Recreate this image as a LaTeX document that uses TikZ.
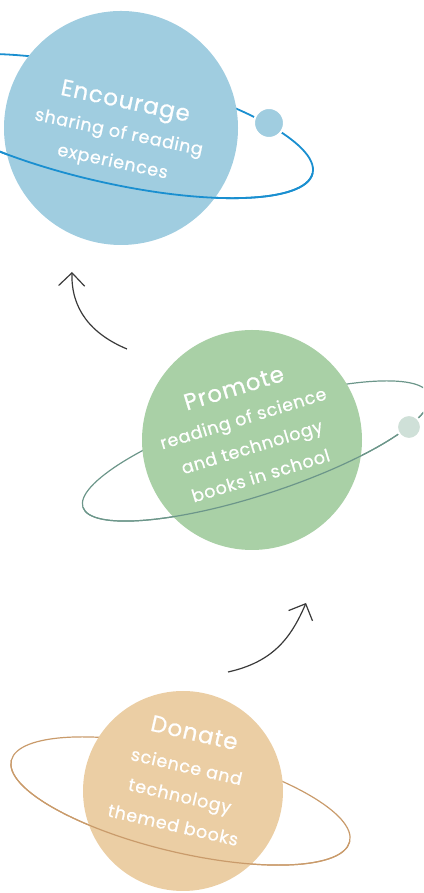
\documentclass[tikz,border=0pt]{standalone}
\usepackage{fontspec}
\setmainfont{Poppins}
\newfontfamily\planetfont{Poppins}[LetterSpace=4, FakeBold=0.7]
\usetikzlibrary{arrows.meta}
\definecolor{EncourageBlue}{HTML}{A0CDE0}
\definecolor{OrbitBlue}{HTML}{1A8FD0}
\definecolor{PromoteGreen}{HTML}{A9D0A6}
\definecolor{OrbitGreen}{HTML}{6C968A}
\definecolor{MoonGreen}{HTML}{CFE0D8}
\definecolor{DonateSand}{HTML}{EBCEA4}
\definecolor{OrbitSand}{HTML}{C99B6B}
\definecolor{ArrowGrey}{HTML}{3A3A3A}

\tikzset{
  planet/.style={circle, inner sep=0pt},
  moon/.style={circle, inner sep=0pt, draw=white, line width=2pt},
  planettext/.style={text=white, align=center, font=\planetfont\fontsize{17.5}{30}\selectfont},
  flow/.style={draw=ArrowGrey, line width=1.2pt, -{Straight Barb[length=13pt,width=26pt]}}
}

\begin{document}
\begin{tikzpicture}[x=1pt,y=1pt]
  \useasboundingbox (0,0) rectangle (423,893);
  \clip (0,0) rectangle (423,893);

  % Encourage, with its orbit and moon
  \begin{scope}[shift={(108,767)},rotate=-13]
    \draw[OrbitBlue, line width=1.8pt] (0,0) ellipse [x radius=210, y radius=56];
  \end{scope}
  \node[planet, fill=EncourageBlue, minimum size=234pt] (encourage) at (121,765) {};
  \begin{scope}[shift={(108,767)},rotate=-13]
    \clip (-220,0) rectangle (220,-70);
    \draw[OrbitBlue, line width=1.8pt] (0,0) ellipse [x radius=210, y radius=56];
  \end{scope}
  \node[moon, fill=EncourageBlue, minimum size=30pt] (encouragemoon) at (269,770) {};
  \node[planettext, rotate=-12] (encouragelabel) at (119,761)
    {{\fontsize{23}{30}\selectfont Encourage}\\sharing of reading\\experiences};

  % Promote
  \begin{scope}[shift={(256,442)},rotate=18]
    \draw[OrbitGreen, line width=1.2pt] (0,0) ellipse [x radius=182, y radius=44];
  \end{scope}
  \node[planet, fill=PromoteGreen, minimum size=220pt] (promote) at (252,453) {};
  \begin{scope}[shift={(256,442)},rotate=18]
    \clip (-190,0) rectangle (190,-60);
    \draw[OrbitGreen, line width=1.2pt] (0,0) ellipse [x radius=182, y radius=44];
  \end{scope}
  \node[moon, fill=MoonGreen, minimum size=24pt] (promotemoon) at (409,466) {};
  \node[planettext, rotate=17] (promotelabel) at (247,462)
    {{\fontsize{23}{30}\selectfont Promote}\\reading of science\\and technology\\books in school};

  % Donate
  \begin{scope}[shift={(180.5,92)},rotate=-13.5]
    \draw[OrbitSand, line width=1.2pt] (0,0) ellipse [x radius=174, y radius=51];
  \end{scope}
  \node[planet, fill=DonateSand, minimum size=200pt] (donate) at (183,102) {};
  \begin{scope}[shift={(180.5,92)},rotate=-13.5]
    \clip (-180,0) rectangle (180,-60);
    \draw[OrbitSand, line width=1.2pt] (0,0) ellipse [x radius=174, y radius=51];
  \end{scope}
  \node[planettext, rotate=-13] (donatelabel) at (184,115)
    {{\fontsize{23}{30}\selectfont Donate}\\[3pt]science and\\technology\\themed books};

  % arrows between the planets
  \coordinate (uptail) at (127,544);
  \coordinate (uphead) at (72,621);
  \draw[flow] (uptail) .. controls +(-36,15) and +(-1,-37) .. (uphead);
  \coordinate (lowtail) at (228,221);
  \coordinate (lowhead) at (306,290);
  \draw[flow] (lowtail) .. controls +(45,10) and +(-15,-35) .. (lowhead);
\end{tikzpicture}
\end{document}
